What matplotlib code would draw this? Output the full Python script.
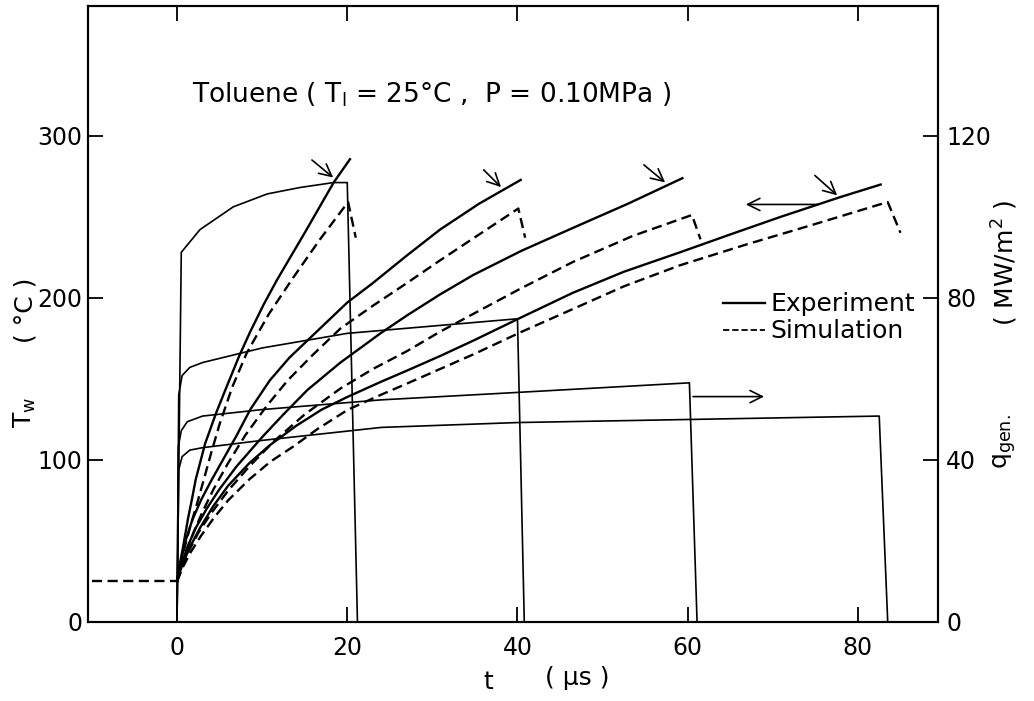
import numpy as np
import matplotlib
matplotlib.use("Agg")
import matplotlib.pyplot as plt
from matplotlib.lines import Line2D

# ---- wall temperature, experiment (t in us, Tw in degC)
t_exp1 = [0, 0.3, 0.7, 1.3, 1.8, 2.2, 3.3, 4.6, 5.9, 7.3, 8.6, 10.2, 11.75, 15.0, 18.4, 20.4]
T_exp1 = [25, 35, 46, 64, 77, 88, 110, 129, 146, 164, 179, 196, 211, 240, 271, 286]

t_exp2 = [0, 0.4, 1.0, 1.8, 2.8, 4.0, 5.5, 7.0, 8.6, 10.9, 13.2, 15.6, 20.0, 23.0, 27.0, 30.9, 35.5, 40.5]
T_exp2 = [25, 36, 50, 63, 75, 87, 101, 115, 131, 149, 163, 175, 197, 209, 226, 242, 258, 273]

t_exp3 = [0, 0.5, 1.2, 2.2, 3.5, 5.0, 7.0, 10.0, 12.5, 15.3, 19.2, 23.9, 27.0, 30.9, 34.8, 40.5, 46.5, 53.0, 59.5]
T_exp3 = [25, 35, 46, 58, 70, 82, 96, 114, 128, 143, 160, 178, 189, 202, 214, 229, 243, 258, 274]

t_exp4 = [0, 0.6, 1.5, 2.7, 4.2, 6.0, 8.5, 10.9, 14.0, 17.0, 20.1, 23.9, 27.0, 30.9, 35.0, 40.5, 46.5,
          52.5, 59.1, 65.0, 71.0, 77.9, 82.8]
T_exp4 = [25, 35, 46, 58, 71, 84, 98, 109, 121, 131, 139, 148, 155, 164, 174, 188, 203,
          216, 228, 239, 250, 262, 270]

# ---- wall temperature, simulation
t_pre = [-10, 0]
T_pre = [25, 25]

t_sim1 = [0, 0.3, 0.8, 1.5, 2.3, 3.1, 4.0, 5.0, 6.5, 8.2, 10.8, 13.6, 16.8, 20.1, 21.0]
T_sim1 = [25, 32, 44, 58, 72, 87, 104, 122, 145, 166, 190, 212, 236, 259, 237]

t_sim2 = [0, 0.5, 1.2, 2.0, 3.0, 4.3, 6.0, 8.0, 10.5, 13.0, 16.0, 19.2, 23.0, 27.0, 30.9, 35.5, 40.1, 40.9]
T_sim2 = [25, 34, 45, 56, 68, 82, 98, 115, 133, 149, 165, 181, 195, 209, 223, 239, 255, 237]

t_sim3 = [0, 0.6, 1.4, 2.5, 4.0, 6.0, 8.5, 11.5, 15.0, 19.2, 23.0, 27.0, 30.9, 34.8, 40.5, 46.5, 53.5, 60.5, 61.5]
T_sim3 = [25, 34, 44, 55, 67, 81, 96, 112, 128, 144, 156, 167, 179, 190, 206, 222, 238, 251, 236]

t_sim4 = [0, 0.7, 1.6, 2.8, 4.3, 6.0, 8.5, 11.0, 13.6, 16.5, 20.1, 23.9, 27.0, 30.9, 34.8, 40.5, 46.5,
          52.5, 59.1, 67.0, 74.7, 83.5, 85.0]
T_sim4 = [25, 34, 43, 53, 64, 75, 88, 99, 108, 119, 131, 140, 147, 156, 165, 179, 193,
          207, 220, 233, 245, 259, 240]

# ---- generated heat flux (MW/m2), right axis
t_q1 = [0, 0.5, 2.7, 6.6, 10.6, 14.5, 18.4, 20.0, 21.2]
q_q1 = [0, 91.2, 96.8, 102.4, 105.6, 107.2, 108.4, 108.4, 0]

t_q2 = [0, 0.2, 0.6, 1.5, 3.0, 10.0, 20.0, 40.0, 40.8]
q_q2 = [0, 56.0, 60.8, 62.8, 64.0, 67.6, 71.2, 74.8, 0]

t_q3 = [0, 0.15, 0.5, 1.2, 3.0, 10.0, 24.0, 38.0, 60.2, 61.1]
q_q3 = [0, 43.2, 47.2, 49.4, 50.8, 52.4, 54.8, 56.4, 59.0, 0]

t_q4 = [0, 0.2, 0.6, 1.5, 3.0, 10.0, 24.0, 40.0, 82.5, 83.5]
q_q4 = [0, 37.6, 40.8, 42.4, 43.0, 44.8, 48.0, 49.2, 50.8, 0]

x_ticks = [0, 20, 40, 60, 80]
y_ticks = [0, 100, 200, 300]
q_ticks = [0, 40, 80, 120]

plt.rcParams["font.family"] = ["DejaVu Sans"]
fig = plt.figure(figsize=(10.34, 7.01), dpi=100)
ax = fig.add_axes([0.0851, 0.1127, 0.822, 0.879])
ax2 = ax.twinx()
ax2.set_position([0.0851, 0.1127, 0.822, 0.879])

lw_T = 1.7
lw_q = 1.2
dash = (4.3, 2.3)

for t, T in [(t_exp1, T_exp1), (t_exp2, T_exp2), (t_exp3, T_exp3), (t_exp4, T_exp4)]:
    ax.plot(t, T, color="black", lw=lw_T, solid_capstyle="butt")
ax.plot(t_pre, T_pre, color="black", lw=lw_T, dashes=dash)
for t, T in [(t_sim1, T_sim1), (t_sim2, T_sim2), (t_sim3, T_sim3), (t_sim4, T_sim4)]:
    ax.plot(t, T, color="black", lw=lw_T, dashes=dash)

for t, q in [(t_q1, q_q1), (t_q2, q_q2), (t_q3, q_q3), (t_q4, q_q4)]:
    ax2.plot(t, q, color="black", lw=lw_q)

# arrows marking onset / which axis a curve belongs to
arr = dict(arrowstyle="->", color="black", lw=1.2, mutation_scale=22)
for (x0, y0), (x1, y1) in [((15.6, 286), (18.6, 273)), ((35.8, 280), (38.3, 267)),
                           ((54.6, 283), (57.6, 270)), ((74.7, 276.5), (77.8, 262)),
                           ((75.6, 257.5), (66.5, 257.5)), ((60.3, 139), (69.3, 139))]:
    ax.annotate("", xy=(x1, y1), xytext=(x0, y0), arrowprops=arr)

ax.set_xlim(-10.46, 89.4)
ax.set_ylim(0, 380)
ax2.set_ylim(0, 152)
ax.set_xticks(x_ticks)
ax.set_yticks(y_ticks)
ax2.set_yticks(q_ticks)

tk = dict(direction="in", length=11, width=1.3, labelsize=17)
ax.tick_params(axis="x", top=True, labeltop=False, pad=10, **tk)
ax.tick_params(axis="y", right=False, pad=4, **tk)
ax2.tick_params(axis="y", pad=6, **tk)
for a in (ax, ax2):
    for s in a.spines.values():
        s.set_linewidth(1.5)

# legend
h = [Line2D([], [], color="black", lw=lw_T),
     Line2D([], [], color="black", lw=1.3, dashes=(3.5, 1.6))]
ax.legend(h, ["Experiment", "Simulation"], loc="upper left", bbox_to_anchor=(0.747, 0.535),
          frameon=False, fontsize=18, handlelength=1.7, handletextpad=0.2,
          labelspacing=0.12, borderaxespad=0, borderpad=0)

# texts
fs = 18
fig.text(192 / 1034, 1 - 95 / 701, r"Toluene ( T$_\mathrm{l}$ = 25°C ,  P = 0.10MPa )",
         fontsize=19, va="center", ha="left")
fig.text(25 / 1034, 1 - 412 / 701, r"T$_\mathrm{w}$", fontsize=fs, rotation=90,
         va="center", ha="center")
fig.text(25 / 1034, 1 - 310 / 701, "( °C )", fontsize=fs, rotation=90,
         va="center", ha="center")
fig.text(1005 / 1034, 1 - 442 / 701, r"q$_\mathrm{gen.}$", fontsize=fs, rotation=90,
         va="center", ha="center")
fig.text(1005 / 1034, 1 - 263 / 701, "( MW/m$^2$ )", fontsize=fs, rotation=90,
         va="center", ha="center")
fig.text(488 / 1034, 1 - 682 / 701, "t", fontsize=fs, va="center", ha="center")
fig.text(577 / 1034, 1 - 678 / 701, "( μs )", fontsize=fs, va="center", ha="center")

fig.savefig("out.png", dpi=100)
